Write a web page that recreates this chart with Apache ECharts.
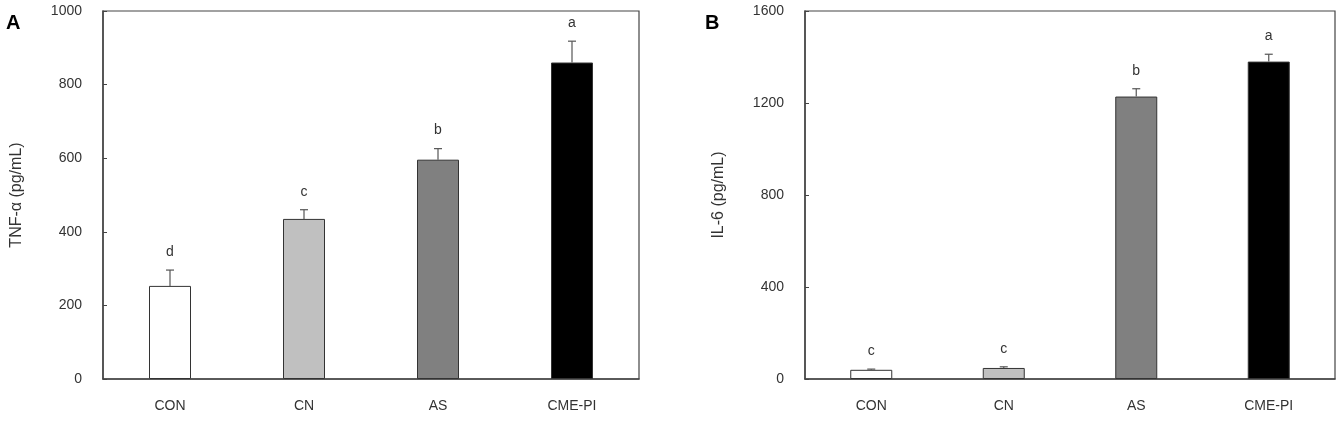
<!DOCTYPE html>
<html>
<head>
<meta charset="utf-8">
<script src="https://cdn.jsdelivr.net/npm/echarts@6/dist/echarts.min.js"></script>
<style>
  html, body { margin: 0; padding: 0; background: #fff; }
  #chart { width: 1339px; height: 423px; }
</style>
</head>
<body>
<div id="chart"></div>
<script>
const categories = ['CON', 'CN', 'AS', 'CME-PI']
const barColors = ['#ffffff', '#c0c0c0', '#808080', '#000000']

const tnfValues = [253, 435, 596, 860]
const tnfErrors = [43, 25, 30, 58]
const tnfLetters = ['d', 'c', 'b', 'a']
const tnfTicks = [0, 200, 400, 600, 800, 1000]

const il6Values = [40, 48, 1228, 1380]
const il6Errors = [3, 5, 34, 32]
const il6Letters = ['c', 'c', 'b', 'a']
const il6Ticks = [0, 400, 800, 1200, 1600]

const font = 'Liberation Sans, Arial, sans-serif'
const textColor = '#333'

const chart = echarts.init(document.getElementById('chart'))

// error bar + significance letter drawn on top of each bar
const errorSeries = (idx, values, errors, letters) => ({
  type: 'custom',
  xAxisIndex: idx,
  yAxisIndex: idx,
  z: 5,
  data: values.map((v, i) => [i, v, errors[i]]),
  renderItem: (params, api) => {
    const i = api.value(0)
    const base = api.coord([i, api.value(1)])
    const top = api.coord([i, api.value(1) + api.value(2)])
    const children = [
      { type: 'line', shape: { x1: base[0], y1: base[1], x2: top[0], y2: top[1] }, style: { stroke: '#555', lineWidth: 1.2 } },
      { type: 'line', shape: { x1: top[0] - 4, y1: top[1], x2: top[0] + 4, y2: top[1] }, style: { stroke: '#555', lineWidth: 1.2 } },
      { type: 'text', x: top[0], y: top[1] - 11, style: { text: letters[i], fill: textColor, font: '14px ' + font, align: 'center', verticalAlign: 'bottom' } }
    ]
    return { type: 'group', children }
  }
})

const barSeries = (idx, values) => ({
  type: 'bar',
  xAxisIndex: idx,
  yAxisIndex: idx,
  barWidth: 42,
  data: values.map((v, i) => ({
    value: v,
    itemStyle: { color: barColors[i], borderColor: '#333', borderWidth: 1 }
  }))
})

const xAxisFor = (idx) => ({
  type: 'category',
  gridIndex: idx,
  data: categories,
  axisLine: { lineStyle: { color: '#444', width: 1.5 } },
  axisTick: { show: false },
  axisLabel: { color: textColor, fontSize: 14, fontFamily: font, margin: 20 }
})

const yAxisFor = (idx, ticks, name) => ({
  type: 'value',
  gridIndex: idx,
  min: ticks[0],
  max: ticks[ticks.length - 1],
  interval: ticks[1] - ticks[0],
  name: name,
  nameLocation: 'middle',
  nameGap: 78,
  nameTextStyle: { color: textColor, fontSize: 16, fontFamily: font },
  axisLine: { show: true, lineStyle: { color: '#444', width: 1.5 } },
  axisTick: { show: true, inside: true, length: 4, lineStyle: { color: '#444' } },
  splitLine: { show: false },
  axisLabel: { color: textColor, fontSize: 14, fontFamily: font, margin: 21, formatter: (v) => String(v) }
})

chart.setOption({
  animation: false,
  title: [
    { text: 'A', left: 1, top: 8, textStyle: { fontSize: 20, fontWeight: 'bold', color: '#000', fontFamily: font } },
    { text: 'B', left: 700, top: 8, textStyle: { fontSize: 20, fontWeight: 'bold', color: '#000', fontFamily: font } }
  ],
  grid: [
    { left: 103, top: 11, width: 536, height: 368, show: true, borderColor: '#444', borderWidth: 1.2 },
    { left: 805, top: 11, width: 530, height: 368, show: true, borderColor: '#444', borderWidth: 1.2 }
  ],
  xAxis: [xAxisFor(0), xAxisFor(1)],
  yAxis: [
    yAxisFor(0, tnfTicks, 'TNF-α (pg/mL)'),
    yAxisFor(1, il6Ticks, 'IL-6 (pg/mL)')
  ],
  series: [
    barSeries(0, tnfValues),
    errorSeries(0, tnfValues, tnfErrors, tnfLetters),
    barSeries(1, il6Values),
    errorSeries(1, il6Values, il6Errors, il6Letters)
  ]
})
</script>
</body>
</html>
